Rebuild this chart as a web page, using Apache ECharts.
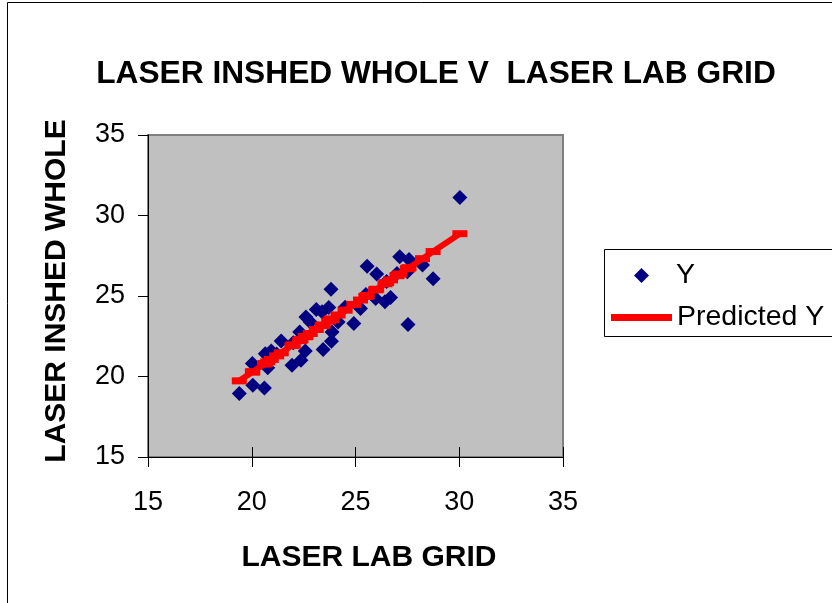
<!DOCTYPE html>
<html>
<head>
<meta charset="utf-8">
<script src="https://cdn.jsdelivr.net/npm/echarts@6/dist/echarts.min.js"></script>
<style>
html,body{margin:0;padding:0;background:#fff;}
#chart{width:832px;height:603px;}
</style>
</head>
<body>
<div id="chart"></div>
<script>
// LASER LAB GRID (x) values
const labGrid = [19.40, 20.03, 20.05, 20.61, 20.65, 20.77, 20.94, 21.20, 21.42, 21.94, 22.00, 22.31, 22.37, 22.58, 22.61, 22.82, 23.11, 23.39, 23.44, 23.71, 23.82, 23.84, 23.87, 24.16, 24.50, 24.92, 25.24, 25.50, 25.56, 25.97, 26.02, 26.42, 26.50, 26.69, 27.00, 27.13, 27.50, 27.53, 27.58, 28.23, 28.74, 30.03];
// Y (LASER INSHED WHOLE) observed values
const observedY = [18.94, 20.80, 19.46, 19.29, 21.42, 20.55, 21.59, 21.40, 22.21, 20.70, 22.10, 22.77, 21.01, 21.59, 23.70, 23.39, 24.16, 24.02, 21.67, 24.28, 25.42, 22.19, 22.77, 23.39, 24.30, 23.29, 24.22, 25.10, 26.85, 24.84, 26.36, 24.64, 25.90, 24.91, 26.40, 27.44, 26.50, 23.23, 27.27, 26.92, 26.07, 31.12];
// Predicted Y values
const predictedY = [19.73, 20.28, 20.29, 20.77, 20.81, 20.91, 21.06, 21.28, 21.47, 21.92, 21.97, 22.23, 22.29, 22.47, 22.49, 22.67, 22.92, 23.16, 23.20, 23.44, 23.53, 23.55, 23.57, 23.82, 24.12, 24.48, 24.75, 24.97, 25.03, 25.38, 25.42, 25.76, 25.83, 26.00, 26.26, 26.37, 26.69, 26.72, 26.76, 27.32, 27.76, 28.87];
const axisTicks = [15, 20, 25, 30, 35];

const FONT = '"Liberation Sans", Arial, sans-serif';
const chart = echarts.init(document.getElementById('chart'), null, {renderer: 'canvas'});

const scatterData = labGrid.map((x, i) => [x, observedY[i]]);
const lineData = labGrid.map((x, i) => [x, predictedY[i]]);

const option = {
  backgroundColor: '#ffffff',
  animation: false,
  title: {
    text: 'LASER INSHED WHOLE V  LASER LAB GRID',
    left: 436,
    top: 58,
    textAlign: 'center',
    padding: 0,
    textStyle: {fontFamily: FONT, fontWeight: 'bold', fontSize: 31.7, color: '#000'}
  },
  legend: [
    {
      data: [{name: 'Y', icon: 'diamond'}],
      orient: 'vertical',
      left: 634, top: 261, padding: 0,
      itemWidth: 15, itemHeight: 15,
      itemStyle: {opacity: 1},
      textStyle: {fontFamily: FONT, fontSize: 28.5, color: '#000', padding: [0, 0, 0, 22]}
    },
    {
      data: [{name: 'Predicted Y', icon: 'rect'}],
      orient: 'vertical',
      left: 611, top: 303, padding: 0,
      itemWidth: 61, itemHeight: 7,
      textStyle: {fontFamily: FONT, fontSize: 28.5, color: '#000'}
    }
  ],
  grid: {
    left: 148, top: 135, width: 415, height: 322,
    show: true, backgroundColor: '#C0C0C0', borderColor: '#808080', borderWidth: 2,
    containLabel: false
  },
  xAxis: [
    {
      type: 'value', min: 15, max: 35, interval: 5,
      name: 'LASER LAB GRID', nameLocation: 'middle', nameGap: 86,
      nameTextStyle: {fontFamily: FONT, fontWeight: 'bold', fontSize: 30, color: '#000', padding: [0, 0, 0, 27]},
      axisLine: {show: true, lineStyle: {color: '#000', width: 1}},
      axisTick: {show: true, inside: false, length: 10, lineStyle: {color: '#000'}},
      axisLabel: {show: true, margin: 32, fontFamily: FONT, fontSize: 27, color: '#000',
        formatter: v => axisTicks.includes(v) ? String(v) : ''},
      splitLine: {show: false}
    },
    {
      type: 'value', min: 15, max: 35, interval: 5, position: 'bottom',
      axisLine: {show: false},
      axisTick: {show: true, inside: true, length: 10, lineStyle: {color: '#000'}},
      axisLabel: {show: false},
      splitLine: {show: false}
    }
  ],
  yAxis: {
    type: 'value', min: 15, max: 35, interval: 5,
    name: 'LASER INSHED WHOLE', nameLocation: 'middle', nameGap: 76,
    nameTextStyle: {fontFamily: FONT, fontWeight: 'bold', fontSize: 30, color: '#000', padding: [0, 0, 0, 10]},
    axisLine: {show: true, lineStyle: {color: '#000', width: 1}},
    axisTick: {show: true, inside: false, length: 10, lineStyle: {color: '#000'}},
    axisLabel: {show: true, margin: 23, fontFamily: FONT, fontSize: 27, color: '#000'},
    splitLine: {show: false}
  },
  graphic: [
    {type: 'rect', shape: {x: 7.5, y: 2.5, width: 900, height: 700}, style: {fill: 'none', stroke: '#000', lineWidth: 1}, silent: true, z: -1},
    {type: 'rect', shape: {x: 604.5, y: 249.5, width: 300, height: 87}, style: {fill: 'none', stroke: '#000', lineWidth: 1}, silent: true}
  ],
  series: [
    {
      name: 'Y', type: 'scatter', xAxisIndex: 0,
      symbol: 'diamond', symbolSize: 15,
      itemStyle: {color: '#000080', opacity: 1},
      data: scatterData, z: 2
    },
    {
      name: 'Predicted Y', type: 'line', xAxisIndex: 0,
      symbol: 'rect', symbolSize: [15, 7], showSymbol: true,
      lineStyle: {color: '#FF0000', width: 6},
      itemStyle: {color: '#FF0000', opacity: 1},
      data: lineData, z: 3
    }
  ]
};
chart.setOption(option);
</script>
</body>
</html>
